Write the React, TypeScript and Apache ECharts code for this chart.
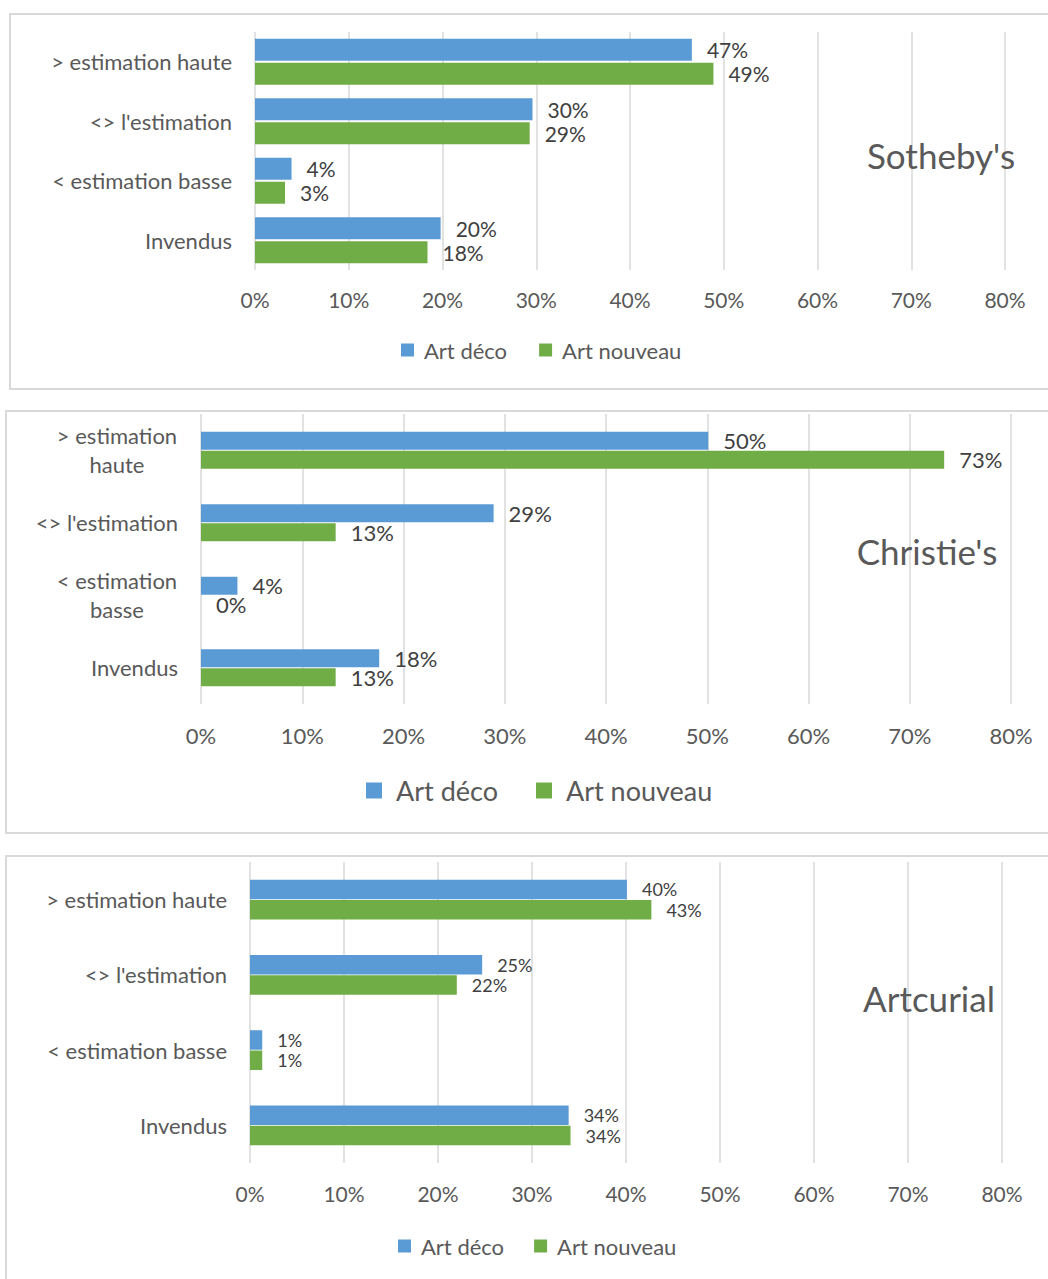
import React, { useEffect, useRef } from "react";
import * as echarts from "echarts";

const categories = ["> estimation haute", "<> l'estimation", "< estimation basse", "Invendus"];
const seriesNames = ["Art déco", "Art nouveau"];
const panelTitles = ["Sotheby's", "Christie's", "Artcurial"];
const sothebysDeco = [46.6, 29.6, 3.9, 19.8];
const sothebysNouveau = [48.9, 29.3, 3.2, 18.4];
const christiesDeco = [50.1, 28.9, 3.6, 17.6];
const christiesNouveau = [73.4, 13.3, 0, 13.3];
const artcurialDeco = [40.1, 24.7, 1.3, 33.9];
const artcurialNouveau = [42.7, 22.0, 1.3, 34.1];
const xMin = 0;
const xMax = 80;
const xStep = 10;

const FONT = "Lato";
const BLUE = "#5b9bd5";
const GREEN = "#70ad47";
const GRID_C = "#d9d9d9";

const panels = [
  { deco: sothebysDeco, nouveau: sothebysNouveau, grid: { left: 255, top: 32, width: 750, height: 238 }, barW: 22, gap: "9%", cat: 22, lab: 21, labLH: 21, tick: 21, tickMargin: 19, wrap: false, legend: { left: 401, top: 339, size: 13, font: 22, gap: 32, pad: 5 }, border: { x: 10, y: 14, h: 375 }, title: { x: 941, y: 155 } },
  { deco: christiesDeco, nouveau: christiesNouveau, grid: { left: 201, top: 414, width: 810, height: 290 }, barW: 18, gap: "6%", cat: 22, lab: 22, labLH: 18, tick: 22, tickMargin: 20, wrap: true, legend: { left: 366, top: 777, size: 16, font: 27, gap: 38, pad: 9 }, border: { x: 6, y: 411, h: 422 }, title: { x: 927, y: 551 } },
  { deco: artcurialDeco, nouveau: artcurialNouveau, grid: { left: 250, top: 862, width: 752, height: 301 }, barW: 19.5, gap: "4%", cat: 22, lab: 18, labLH: 18, tick: 21, tickMargin: 20, wrap: false, legend: { left: 398, top: 1235, size: 13, font: 22, gap: 30, pad: 5 }, border: { x: 6, y: 856, h: 500 }, title: { x: 929, y: 998 } },
];

export default function App() {
  const ref = useRef<HTMLDivElement>(null);
  useEffect(() => {
    if (!ref.current) return;
    const chart = echarts.init(ref.current, undefined, { renderer: "svg" });
    const grids: any[] = [];
    const xAxes: any[] = [];
    const yAxes: any[] = [];
    const series: any[] = [];
    const legends: any[] = [];
    const graphics: any[] = [];
    panels.forEach((p, i) => {
      grids.push({ ...p.grid, containLabel: false });
      xAxes.push({
        type: "value", gridIndex: i, min: xMin, max: xMax, interval: xStep,
        axisLine: { show: false }, axisTick: { show: false },
        splitLine: { show: true, lineStyle: { color: GRID_C, width: 1.5 } },
        axisLabel: { formatter: "{value}%", color: "#595959", fontFamily: FONT, fontSize: p.tick, margin: p.tickMargin },
      });
      yAxes.push({
        type: "category", gridIndex: i, inverse: true, data: categories,
        axisLine: { show: false }, axisTick: { show: false },
        axisLabel: p.wrap
          ? {
              color: "#595959", fontFamily: FONT, fontSize: p.cat, margin: 23, lineHeight: 29,
              formatter: (v: string) => {
                if (v.startsWith("> ") || v.startsWith("< ")) {
                  const parts = v.split(" ");
                  const first = parts.slice(0, 2).join(" ");
                  const second = parts.slice(2).join(" ");
                  return `{w|${first}}\n{w|${second}}`;
                }
                return v;
              },
              rich: { w: { width: 122, align: "center", color: "#595959", fontFamily: FONT, fontSize: p.cat, lineHeight: 29 } },
            }
          : { color: "#595959", fontFamily: FONT, fontSize: p.cat, margin: 23 },
      });
      const mk = (name: string, data: number[], color: string) => ({
        type: "bar", name, xAxisIndex: i, yAxisIndex: i, data,
        barWidth: p.barW, barGap: p.gap,
        itemStyle: { color },
        label: {
          show: true, position: "right", distance: 15, color: "#404040", fontFamily: FONT, fontSize: p.lab,
          lineHeight: p.labLH,
          formatter: (d: any) => Math.round(d.value) + "%",
        },
      });
      series.push(mk(seriesNames[0], p.deco, BLUE));
      series.push(mk(seriesNames[1], p.nouveau, GREEN));
      legends.push({
        data: seriesNames, left: p.legend.left, top: p.legend.top, icon: "rect", padding: 0,
        itemWidth: p.legend.size, itemHeight: p.legend.size, itemGap: p.legend.gap, selectedMode: false,
        textStyle: { color: "#595959", fontFamily: FONT, fontSize: p.legend.font, padding: [0, 0, 0, p.legend.pad] },
      });
      graphics.push({
        type: "rect", shape: { x: p.border.x, y: p.border.y, width: 1200, height: p.border.h }, z: -10,
        style: { fill: "none", stroke: "#d9d9d9", lineWidth: 2 }, silent: true,
      });
      graphics.push({
        type: "text", x: p.title.x, y: p.title.y, z: 10,
        style: { text: panelTitles[i], fill: "#595959", font: `35px ${FONT}`, textAlign: "center", textVerticalAlign: "middle" },
      });
    });
    chart.setOption({
      animation: false,
      backgroundColor: "#ffffff",
      grid: grids, xAxis: xAxes, yAxis: yAxes, series, legend: legends, graphic: graphics,
    });
    return () => chart.dispose();
  }, []);
  return <div ref={ref} style={{ position: "absolute", left: 0, top: 0, width: 1048, height: 1279 }} />;
}
